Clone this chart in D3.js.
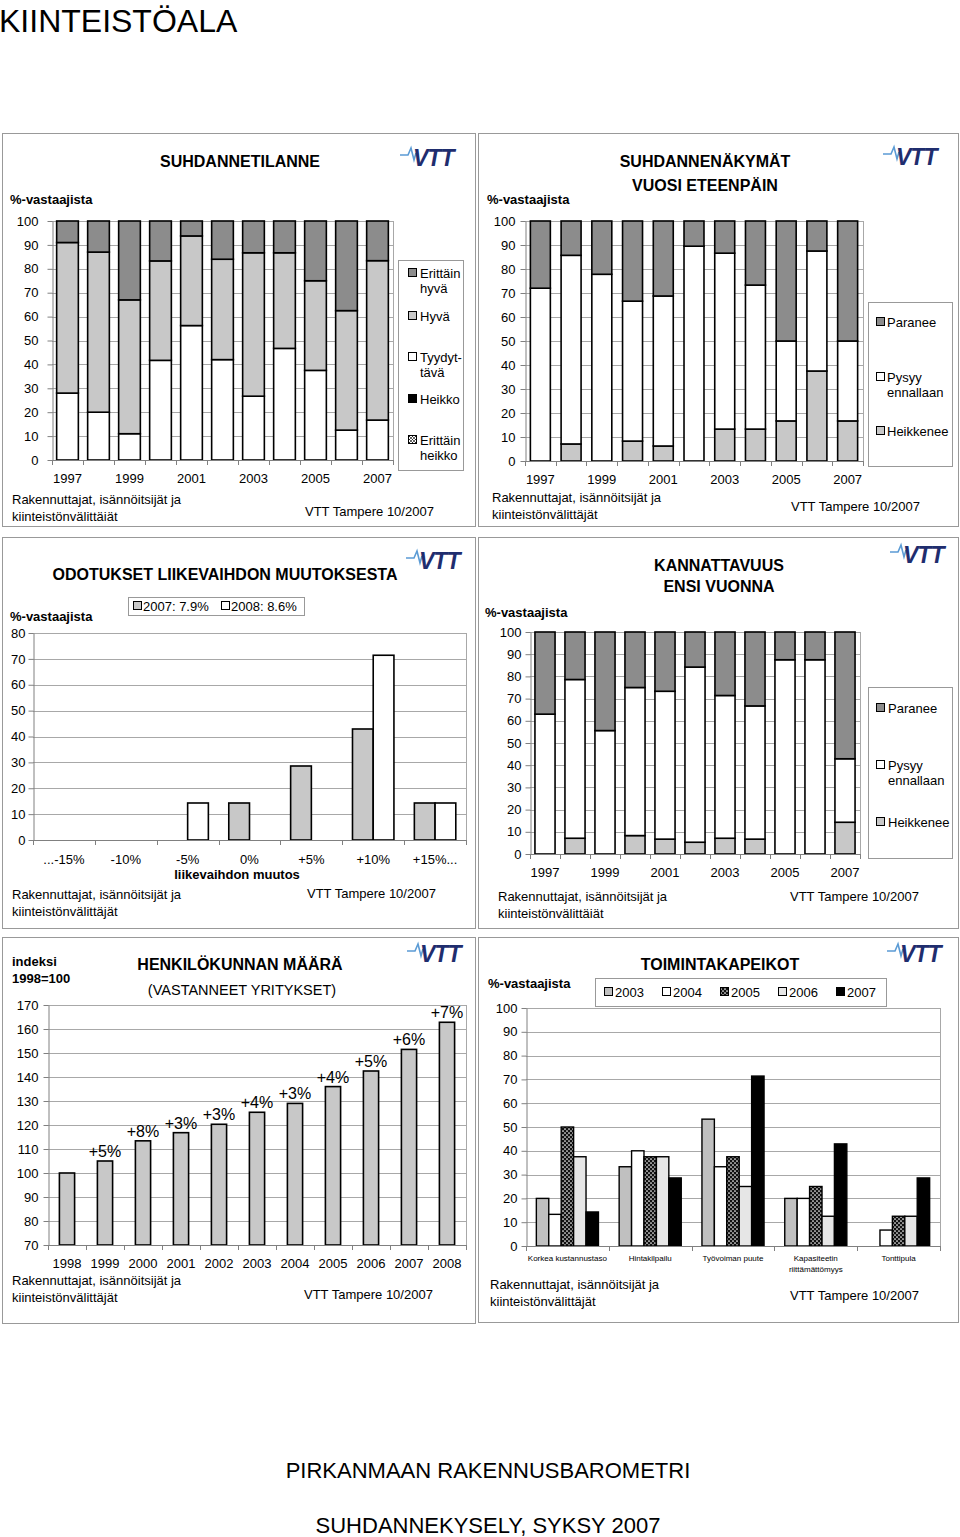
<!DOCTYPE html>
<html><head><meta charset="utf-8">
<script src="https://cdn.jsdelivr.net/npm/d3@7"></script>
<style>
body{margin:0;background:#fff;}
svg{display:block;}
</style></head><body>
<svg id="c" width="960" height="1537"></svg>
<script>
// ---------- DATA ----------
const years = ["1997","1998","1999","2000","2001","2002","2003","2004","2005","2006","2007"];
const yearTickLabels = ["1997","1999","2001","2003","2005","2007"];
const pctTicks = [0,10,20,30,40,50,60,70,80,90,100];

// Suhdannetilanne
const tilanneErittainHeikko = [0,0,0,0,0,0,0,0,0,0,0];
const tilanneHeikko = [0,0,0,0,0,0,0,0,0,0,0];
const tilanneTyydyttava = [28,20,11,41.7,56.25,42,26.7,46.7,37.5,12.5,16.7];
const tilanneHyva = [63,67,56,41.6,37.5,42,60,40,37.5,50,66.7];
const tilanneErittainHyva = [9,13,33,16.7,6.25,16,13.3,13.3,25,37.5,16.6];
const tilanneLegend = [["Erittäin","hyvä"],["Hyvä"],["Tyydyt-","tävä"],["Heikko"],["Erittäin","heikko"]];

// Suhdannenäkymät vuosi eteenpäin
const nakymatHeikkenee = [0,7.1,0,8.3,6.25,0,13.3,13.3,16.7,37.5,16.7];
const nakymatPysyy = [72,78.6,77.8,58.3,62.5,89.5,73.3,60,33.3,50,33.3];
const nakymatParanee = [28,14.3,22.2,33.4,31.25,10.5,13.4,26.7,50,12.5,50];
const trendLegend = [["Paranee"],["Pysyy","ennallaan"],["Heikkenee"]];

// Odotukset liikevaihdon muutoksesta
const muutosLabels = ["...-15%","-10%","-5%","0%","+5%","+10%","+15%..."];
const odotusSeries = ["2007","2008"];
const odotus2007 = [0,0,0,14.3,28.6,42.9,14.3];
const odotus2008 = [0,0,14.3,0,0,71.4,14.3];
const odotusLegend = ["2007: 7.9%","2008: 8.6%"];
const odotusTicks = [0,10,20,30,40,50,60,70,80];

// Kannattavuus ensi vuonna
const kannHeikkenee = [0,7.1,0,8.3,6.7,5.3,7.1,6.7,0,0,14.3];
const kannPysyy = [63,71.5,55.6,66.7,66.6,78.9,64.3,60,87.5,87.5,28.6];
const kannParanee = [37,21.4,44.4,25,26.7,15.8,28.6,33.3,12.5,12.5,57.1];

// Henkilökunnan määrä
const henkYears = ["1998","1999","2000","2001","2002","2003","2004","2005","2006","2007","2008"];
const henkIndeksi = [100,105,113.4,116.8,120.3,125.3,129,136,142.5,151.5,162.8];
const henkMuutos = ["","+5%","+8%","+3%","+3%","+4%","+3%","+4%","+5%","+6%","+7%"];
const henkTicks = [70,80,90,100,110,120,130,140,150,160,170];

// Toimintakapeikot
const kapeikot = ["Korkea kustannustaso","Hintakilpailu","Työvoiman puute","Kapasiteetin riittämättömyys","Tonttipula"];
const kapeikotLabels = [["Korkea kustannustaso"],["Hintakilpailu"],["Työvoiman puute"],["Kapasiteetin","riittämättömyys"],["Tonttipula"]];
const kapYears = ["2003","2004","2005","2006","2007"];
const kap2003 = [20,33.3,53.3,20,0];
const kap2004 = [13.3,40,33.3,20,6.7];
const kap2005 = [50,37.5,37.5,25,12.5];
const kap2006 = [37.5,37.5,25,12.5,12.5];
const kap2007 = [14.3,28.6,71.4,42.9,28.6];

// ---------- SETUP ----------
const FONT = "'Liberation Sans', Arial, Helvetica, sans-serif";
const DARK = "#8c8c8c", LIGHT = "#c8c8c8";
const svg = d3.select("#c").attr("font-family", FONT);
svg.append("rect").attr("width",960).attr("height",1537).attr("fill","#fff");

const defs = svg.append("defs");
const pd = defs.append("pattern").attr("id","dots").attr("width",4).attr("height",4).attr("patternUnits","userSpaceOnUse");
pd.append("rect").attr("width",4).attr("height",4).attr("fill","#111");
pd.append("circle").attr("cx",1).attr("cy",1).attr("r",0.85).attr("fill","#fff");
pd.append("circle").attr("cx",3).attr("cy",3).attr("r",0.85).attr("fill","#fff");
const ph = defs.append("pattern").attr("id","xhatch").attr("width",3).attr("height",3).attr("patternUnits","userSpaceOnUse");
ph.append("rect").attr("width",3).attr("height",3).attr("fill","#fff");
ph.append("path").attr("d","M0,0L3,3M3,0L0,3").attr("stroke","#000").attr("stroke-width",0.6);

function T(g, x, y, s, o={}) {
  return g.append("text").attr("x",x).attr("y",y)
    .attr("font-size", o.size||13).attr("font-weight", o.weight||"normal")
    .attr("text-anchor", o.anchor||"start").attr("fill", o.fill||"#000").text(s);
}
function logo(x,y){
  const g = svg.append("g").attr("transform",`translate(${x},${y})`);
  g.append("path").attr("d","M0,8 L8,8 L11,1 L14,13 L16,6").attr("fill","none").attr("stroke","#5b9bd5").attr("stroke-width",1.6);
  g.append("text").attr("x",13).attr("y",19).attr("font-size",23).attr("font-weight","bold")
    .attr("font-style","italic").attr("fill","#1f2d6e").attr("letter-spacing",-1).text("VTT");
}
function valueAxis(g, y, x0, x1, ticks, gap) {
  const [yb, yt] = y.range();
  g.append("g").selectAll("line").data(ticks.slice(1)).join("line")
    .attr("x1",x0).attr("x2",x1).attr("y1",d=>Math.round(y(d))+.5).attr("y2",d=>Math.round(y(d))+.5)
    .attr("stroke","#a8a8a8");
  g.append("line").attr("x1",x1+.5).attr("x2",x1+.5).attr("y1",yt).attr("y2",yb).attr("stroke","#a8a8a8");
  const ax = g.append("g").attr("transform",`translate(${x0+.5},0)`)
    .call(d3.axisLeft(y).tickValues(ticks).tickSize(5).tickSizeOuter(0).tickPadding(gap-5));
  ax.attr("font-family",FONT).attr("font-size",13);
  ax.select(".domain").attr("stroke","#808080");
  ax.selectAll(".tick line").attr("stroke","#808080");
  ax.selectAll(".tick text").attr("fill","#000");
}
function bandAxis(g, x, yb) {
  const [x0,x1] = x.range();
  const half = (x.step()-x.bandwidth())/2;
  const b = x.domain().map(c=>x(c)-half).concat([x1]);
  g.append("line").attr("x1",x0).attr("x2",x1).attr("y1",yb+.5).attr("y2",yb+.5).attr("stroke","#808080");
  g.append("g").selectAll("line").data(b).join("line")
    .attr("x1",d=>Math.round(d)+.5).attr("x2",d=>Math.round(d)+.5).attr("y1",yb).attr("y2",yb+5).attr("stroke","#808080");
}
function catLabels(g, x, shown, base) {
  g.append("g").selectAll("text").data(shown).join("text")
    .attr("x",d=>x(d)+x.bandwidth()/2).attr("y",base).attr("text-anchor","middle").attr("font-size",13).text(d=>d);
}
function stackedBars(g, cats, seriesList, fills, x, y) {
  const keys = seriesList.map((_,k)=>"s"+k);
  const rows = cats.map((c,i)=>{const o={cat:c}; seriesList.forEach((s,k)=>o["s"+k]=s[i]); return o;});
  const layers = d3.stack().keys(keys)(rows);
  g.append("g").selectAll("g").data(layers).join("g").attr("fill",(d,k)=>fills[k])
    .selectAll("rect").data(d=>d.filter(v=>v[1]-v[0]>0)).join("rect")
    .attr("x",d=>x(d.data.cat)).attr("width",x.bandwidth())
    .attr("y",d=>y(d[1])).attr("height",d=>y(d[0])-y(d[1]))
    .attr("stroke","#000").attr("stroke-width",1.6);
}
function legendBox(g,x,y,w,h){
  g.append("rect").attr("x",x+.5).attr("y",y+.5).attr("width",w).attr("height",h).attr("fill","#fff").attr("stroke","#999");
}
function legendItem(g, sx, tx, base, lines, fill, lh=15) {
  g.append("rect").attr("x",sx+.5).attr("y",base-9.5).attr("width",8).attr("height",8).attr("fill",fill).attr("stroke","#000");
  lines.forEach((l,i)=>T(g, tx, base+i*lh, l));
}
function source(g, x, y1, second, vx, vy) {
  T(g, x, y1, "Rakennuttajat, isännöitsijät ja");
  T(g, x, y1+17, second);
  T(g, vx, vy, "VTT Tampere 10/2007");
}

// ---------- PAGE ----------
T(svg, -1, 32, "KIINTEISTÖALA", {size:32});
T(svg, 488, 1478, "PIRKANMAAN RAKENNUSBAROMETRI", {size:22, anchor:"middle"});
T(svg, 488, 1533, "SUHDANNEKYSELY, SYKSY 2007", {size:22, anchor:"middle"});

const frames = [[2,133,473,393],[478,133,480,393],[2,537,473,391],[478,537,480,391],[2,937,473,386],[478,937,480,385]];
frames.forEach(f=>svg.append("rect").attr("x",f[0]+.5).attr("y",f[1]+.5).attr("width",f[2]).attr("height",f[3]).attr("fill","none").attr("stroke","#999"));

// ---------- PANEL 1 ----------
{
  const g = svg.append("g");
  T(g, 240, 167, "SUHDANNETILANNE", {size:16, weight:"bold", anchor:"middle"});
  T(g, 10, 204, "%-vastaajista", {weight:"bold"});
  logo(400,147);
  const x = d3.scaleBand().domain(years).range([52,393]).paddingInner(0.3).paddingOuter(0.15);
  const y = d3.scaleLinear().domain([0,100]).range([460,221]);
  valueAxis(g,y,52,393,pctTicks,14);
  stackedBars(g, years, [tilanneErittainHeikko,tilanneHeikko,tilanneTyydyttava,tilanneHyva,tilanneErittainHyva],
    ["url(#xhatch)","#000","#fff",LIGHT,DARK], x, y);
  bandAxis(g,x,460);
  catLabels(g,x,yearTickLabels,483);
  legendBox(g,398,260,65,210);
  const lf = [DARK,LIGHT,"#fff","#000","url(#xhatch)"];
  const lb = [278,321,362,404,445];
  tilanneLegend.forEach((l,i)=>legendItem(g,408,420,lb[i],l,lf[i]));
  source(g, 12, 504, "kiinteistönvälittäiät", 305, 516);
}

// ---------- PANEL 2 ----------
{
  const g = svg.append("g");
  T(g, 705, 167, "SUHDANNENÄKYMÄT", {size:16, weight:"bold", anchor:"middle"});
  T(g, 705, 191, "VUOSI ETEENPÄIN", {size:16, weight:"bold", anchor:"middle"});
  T(g, 487, 204, "%-vastaajista", {weight:"bold"});
  logo(883,146);
  const x = d3.scaleBand().domain(years).range([525,863]).paddingInner(0.35).paddingOuter(0.175);
  const y = d3.scaleLinear().domain([0,100]).range([461,221]);
  valueAxis(g,y,525,863,pctTicks,10);
  stackedBars(g, years, [nakymatHeikkenee,nakymatPysyy,nakymatParanee], [LIGHT,"#fff",DARK], x, y);
  bandAxis(g,x,461);
  catLabels(g,x,yearTickLabels,484);
  legendBox(g,868,302,84,164);
  const lf = [DARK,"#fff",LIGHT];
  const lb = [327,382,436];
  trendLegend.forEach((l,i)=>legendItem(g,876,887,lb[i],l,lf[i],14.5));
  source(g, 492, 502, "kiinteistönvälittäjät", 791, 511);
}

// ---------- PANEL 3 ----------
{
  const g = svg.append("g");
  T(g, 225, 580, "ODOTUKSET LIIKEVAIHDON MUUTOKSESTA", {size:16, weight:"bold", anchor:"middle"});
  T(g, 10, 621, "%-vastaajista", {weight:"bold"});
  logo(406,550);
  const x = d3.scaleBand().domain(muutosLabels).range([33,466]).paddingInner(0.33).paddingOuter(0.165);
  const xs = d3.scaleBand().domain(odotusSeries).range([0,x.bandwidth()]);
  const y = d3.scaleLinear().domain([0,80]).range([840,633]);
  valueAxis(g,y,33,466,odotusTicks,8);
  const series = [odotus2007, odotus2008], fills = [LIGHT,"#fff"];
  series.forEach((s,k)=>{
    g.append("g").selectAll("rect").data(muutosLabels.map((c,i)=>({c,v:s[i]})).filter(d=>d.v>0)).join("rect")
      .attr("x",d=>x(d.c)+xs(odotusSeries[k])).attr("width",xs.bandwidth())
      .attr("y",d=>y(d.v)).attr("height",d=>y(0)-y(d.v))
      .attr("fill",fills[k]).attr("stroke","#000").attr("stroke-width",1.6);
  });
  bandAxis(g,x,840);
  catLabels(g,x,muutosLabels,864);
  T(g, 237, 879, "liikevaihdon muutos", {weight:"bold", anchor:"middle"});
  legendBox(g,128,597,176,18);
  legendItem(g,133,143,611,[odotusLegend[0]],LIGHT);
  legendItem(g,221,231,611,[odotusLegend[1]],"#fff");
  source(g, 12, 899, "kiinteistönvälittäjät", 307, 898);
}

// ---------- PANEL 4 ----------
{
  const g = svg.append("g");
  T(g, 719, 571, "KANNATTAVUUS", {size:16, weight:"bold", anchor:"middle"});
  T(g, 719, 592, "ENSI VUONNA", {size:16, weight:"bold", anchor:"middle"});
  T(g, 485, 617, "%-vastaajista", {weight:"bold"});
  logo(890,544);
  const x = d3.scaleBand().domain(years).range([530,860]).paddingInner(0.33).paddingOuter(0.165);
  const y = d3.scaleLinear().domain([0,100]).range([854,632]);
  valueAxis(g,y,530,860,pctTicks,9);
  stackedBars(g, years, [kannHeikkenee,kannPysyy,kannParanee], [LIGHT,"#fff",DARK], x, y);
  bandAxis(g,x,854);
  catLabels(g,x,yearTickLabels,877);
  legendBox(g,868,687,84,171);
  const lf = [DARK,"#fff",LIGHT];
  const lb = [713,770,827];
  trendLegend.forEach((l,i)=>legendItem(g,876,888,lb[i],l,lf[i],15));
  source(g, 498, 901, "kiinteistönvälittäiät", 790, 901);
}

// ---------- PANEL 5 ----------
{
  const g = svg.append("g");
  T(g, 12, 966, "indeksi", {weight:"bold"});
  T(g, 12, 983, "1998=100", {weight:"bold"});
  T(g, 240, 970, "HENKILÖKUNNAN MÄÄRÄ", {size:16, weight:"bold", anchor:"middle"});
  T(g, 242, 995, "(VASTANNEET YRITYKSET)", {size:14.5, anchor:"middle"});
  logo(407,943);
  const x = d3.scaleBand().domain(henkYears).range([48,466]).paddingInner(0.6).paddingOuter(0.3);
  const y = d3.scaleLinear().domain([70,170]).range([1245,1005]);
  valueAxis(g,y,48,466,henkTicks,10);
  const rows = henkYears.map((yr,i)=>({yr, v:henkIndeksi[i], l:henkMuutos[i]}));
  g.append("g").selectAll("rect").data(rows).join("rect")
    .attr("x",d=>x(d.yr)).attr("width",x.bandwidth())
    .attr("y",d=>y(d.v)).attr("height",d=>y(70)-y(d.v))
    .attr("fill",LIGHT).attr("stroke","#000").attr("stroke-width",1.6);
  g.append("g").selectAll("text").data(rows).join("text")
    .attr("x",d=>x(d.yr)+x.bandwidth()/2).attr("y",d=>y(d.v)-4)
    .attr("text-anchor","middle").attr("font-size",16).text(d=>d.l);
  bandAxis(g,x,1245);
  catLabels(g,x,henkYears,1268);
  source(g, 12, 1285, "kiinteistönvälittäjät", 304, 1299);
}

// ---------- PANEL 6 ----------
{
  const g = svg.append("g");
  T(g, 720, 970, "TOIMINTAKAPEIKOT", {size:16, weight:"bold", anchor:"middle"});
  T(g, 488, 988, "%-vastaajista", {weight:"bold"});
  logo(887,943);
  const x = d3.scaleBand().domain(kapeikot).range([526,940]).paddingInner(0.25).paddingOuter(0.125);
  const xs = d3.scaleBand().domain(kapYears).range([0,x.bandwidth()]);
  const y = d3.scaleLinear().domain([0,100]).range([1246,1008]);
  valueAxis(g,y,526,940,pctTicks,9);
  const series = [kap2003,kap2004,kap2005,kap2006,kap2007];
  const fills = ["#c0c0c0","#fff","url(#dots)","#e6e6e6","#000"];
  series.forEach((s,k)=>{
    g.append("g").selectAll("rect").data(kapeikot.map((c,i)=>({c,v:s[i]})).filter(d=>d.v>0)).join("rect")
      .attr("x",d=>x(d.c)+xs(kapYears[k])).attr("width",xs.bandwidth())
      .attr("y",d=>y(d.v)).attr("height",d=>y(0)-y(d.v))
      .attr("fill",fills[k]).attr("stroke","#000").attr("stroke-width",1.4);
  });
  bandAxis(g,x,1246);
  kapeikot.forEach((c,i)=>kapeikotLabels[i].forEach((l,j)=>
    T(g, x(c)+x.bandwidth()/2, 1261+j*11, l, {size:8, anchor:"middle"})));
  legendBox(g,595,978,291,28);
  kapYears.forEach((yr,k)=>legendItem(g,604+k*58,615+k*58,997,[yr],fills[k]));
  source(g, 490, 1289, "kiinteistönvälittäjät", 790, 1300);
}
</script></body></html>
